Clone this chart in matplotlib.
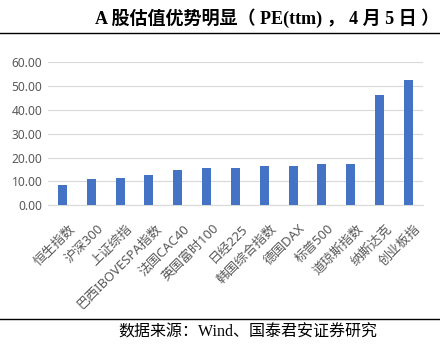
import matplotlib.pyplot as plt
import matplotlib.transforms as mtransforms
import numpy as np

indices = ['恒生指数', '沪深300', '上证综指', '巴西IBOVESPA指数', '法国CAC40', '英国富时100',
           '日经225', '韩国综合指数', '德国DAX', '标普500', '道琼斯指数', '纳斯达克', '创业板指']
pe_ttm = [8.5, 11.0, 11.6, 12.7, 14.8, 15.5, 15.8, 16.4, 16.4, 17.4, 17.4, 46.3, 52.6]
yticks = [0, 10, 20, 30, 40, 50, 60]

plt.rcParams['font.family'] = ['Noto Sans', 'Noto Sans CJK SC', 'DejaVu Sans']

fig = plt.figure(figsize=(4.4, 3.51), dpi=100)
ax = fig.add_axes([0.109, 0.415, 0.852, 0.4075])

x = np.arange(len(indices))
ax.bar(x, pe_ttm, width=0.31, color='#4472C4', zorder=3)

ax.set_xlim(-0.5, len(indices) - 0.5)
ax.set_ylim(0, 60)
ax.set_yticks(yticks)
ax.set_yticklabels([f'{v:.2f}' for v in yticks], fontsize=8.6, color='#595959')
ax.set_xticks(x)
ax.set_xticklabels(indices, rotation=45, ha='right', va='top', rotation_mode='anchor',
                   fontsize=9.4, color='#595959')
ax.tick_params(axis='y', length=0, pad=4)
ax.tick_params(axis='x', length=0, pad=12)
# nudge the rotated labels a little to the right, like the Excel layout
offset = mtransforms.ScaledTranslation(4 / 72, 0, fig.dpi_scale_trans)
for lbl in ax.get_xticklabels():
    lbl.set_transform(lbl.get_transform() + offset)
ax.grid(axis='y', color='#d9d9d9', linewidth=0.8, zorder=0)
for s in ['top', 'right', 'left']:
    ax.spines[s].set_visible(False)
ax.spines['bottom'].set_color('#d9d9d9')

# title and source lines
fig.text(0.997, 0.949, 'A 股估值优势明显（ PE(ttm) ， 4 月 5 日 ）', ha='right', va='center',
         fontsize=13, fontweight='bold', family=['Liberation Serif', 'Noto Sans CJK SC'])
fig.add_artist(plt.Line2D([0, 1], [1 - 33 / 351, 1 - 33 / 351], color='black', linewidth=1))
fig.add_artist(plt.Line2D([0, 1], [1 - 319 / 351, 1 - 319 / 351], color='black', linewidth=1))
fig.text(0.5625, 1 - 333 / 351, '数据来源：Wind、国泰君安证券研究', ha='center', va='center',
         fontsize=11.5, family=['Liberation Serif', 'Noto Sans CJK SC'])

plt.savefig('out.png', dpi=100)
